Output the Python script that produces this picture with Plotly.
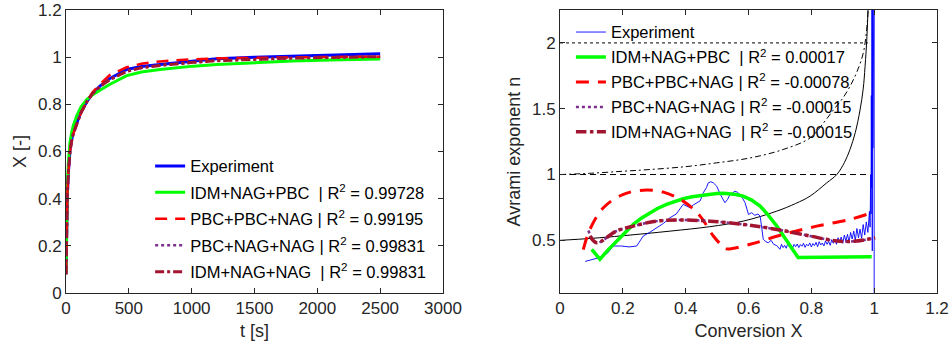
import plotly.graph_objects as go

# ---------------- Left panel data: X vs t ----------------
t_exp = [0, 5, 11, 20, 32, 45, 58, 85, 120, 165, 210, 270, 350, 483, 600, 748, 900, 1013, 1199, 1500, 1800, 2100, 2500]
X_exp = [0.08, 0.25, 0.42, 0.52, 0.606, 0.65, 0.68, 0.72, 0.77, 0.81, 0.845, 0.877, 0.91, 0.948, 0.96, 0.969, 0.977, 0.983, 0.993, 1.0, 1.005, 1.01, 1.015]
X_idm_nag_pbc = [0.08, 0.28, 0.46, 0.56, 0.64, 0.68, 0.71, 0.75, 0.79, 0.82, 0.84, 0.86, 0.885, 0.922, 0.937, 0.948, 0.957, 0.962, 0.969, 0.978, 0.984, 0.988, 0.992]
X_pbc_pbc_nag = [0.08, 0.25, 0.42, 0.52, 0.6, 0.645, 0.675, 0.715, 0.765, 0.81, 0.85, 0.885, 0.925, 0.957, 0.972, 0.982, 0.988, 0.991, 0.995, 0.998, 1.0, 1.001, 1.002]
X_pbc_nag_nag = [0.08, 0.25, 0.42, 0.52, 0.6, 0.645, 0.675, 0.715, 0.765, 0.81, 0.845, 0.875, 0.905, 0.94, 0.955, 0.965, 0.973, 0.978, 0.985, 0.992, 0.996, 0.999, 1.002]
X_idm_nag_nag = [0.08, 0.25, 0.42, 0.52, 0.6, 0.645, 0.675, 0.715, 0.765, 0.81, 0.845, 0.875, 0.905, 0.94, 0.955, 0.965, 0.973, 0.978, 0.985, 0.992, 0.996, 0.999, 1.002]

# ---------------- Right panel data: Avrami exponent vs X ----------------
n_exp_X = [0.08, 0.127, 0.15, 0.17, 0.195, 0.22, 0.244, 0.265, 0.285, 0.308, 0.33, 0.35, 0.37, 0.392, 0.404, 0.414,
           0.425, 0.435, 0.446, 0.456, 0.466, 0.472, 0.48, 0.488, 0.499, 0.51, 0.525, 0.533, 0.541, 0.549, 0.557,
           0.565, 0.573, 0.581, 0.589, 0.6, 0.61, 0.62, 0.63, 0.637, 0.647, 0.655, 0.663, 0.672, 0.68, 0.69,
           0.700, 0.705, 0.710, 0.715, 0.720, 0.725, 0.730, 0.735, 0.740, 0.745, 0.750, 0.755, 0.760, 0.765,
           0.770, 0.775, 0.780, 0.785, 0.790, 0.795, 0.800, 0.805, 0.810, 0.815, 0.820, 0.825, 0.830, 0.835,
           0.840, 0.845, 0.850, 0.855, 0.860, 0.865, 0.870, 0.875, 0.880, 0.885, 0.890, 0.895, 0.900, 0.905,
           0.910, 0.915, 0.920, 0.925, 0.930, 0.935, 0.940, 0.945, 0.950, 0.955, 0.960, 0.965, 0.970, 0.975,
           0.980, 0.985, 0.987, 0.989, 0.990, 0.991, 0.992, 0.993, 0.994, 0.995, 0.996, 0.997, 0.998, 0.999,
           1.0, 1.0]
n_exp = [0.34, 0.37, 0.40, 0.457, 0.457, 0.45, 0.457, 0.533, 0.56, 0.596, 0.63, 0.672, 0.70, 0.773, 0.76, 0.748,
         0.77, 0.786, 0.80, 0.861, 0.90, 0.937, 0.945, 0.937, 0.911, 0.85, 0.786, 0.81, 0.848, 0.86, 0.873,
         0.865, 0.848, 0.82, 0.786, 0.697, 0.71, 0.69, 0.70, 0.684, 0.508, 0.49, 0.482, 0.50, 0.47, 0.46,
         0.432, 0.47, 0.445, 0.462, 0.44, 0.475, 0.45, 0.465, 0.438, 0.47, 0.452, 0.472, 0.445, 0.468,
         0.455, 0.478, 0.447, 0.47, 0.458, 0.48, 0.45, 0.476, 0.46, 0.485, 0.452, 0.49, 0.465, 0.48,
         0.458, 0.495, 0.47, 0.492, 0.462, 0.505, 0.478, 0.51, 0.47, 0.52, 0.488, 0.525, 0.478, 0.54,
         0.495, 0.545, 0.49, 0.56, 0.51, 0.57, 0.5, 0.59, 0.52, 0.585, 0.515, 0.62, 0.54, 0.64,
         0.56, 0.72, 0.6, 1.0, 0.7, 1.6, 0.9, 2.3, 0.42, 2.3, 1.2, 2.4, 1.4, 2.4,
         2.4, 0.1]

g_X = [0.101, 0.127, 0.15, 0.18, 0.21, 0.233, 0.26, 0.286, 0.31, 0.339, 0.365, 0.392, 0.42, 0.446, 0.47, 0.499,
       0.52, 0.541, 0.56, 0.583, 0.61, 0.637, 0.66, 0.69, 0.71, 0.732, 0.758, 0.992]
g_n = [0.432, 0.356, 0.42, 0.495, 0.565, 0.621, 0.67, 0.71, 0.742, 0.773, 0.797, 0.816, 0.831, 0.841, 0.849, 0.856,
       0.857, 0.854, 0.848, 0.836, 0.806, 0.76, 0.70, 0.608, 0.535, 0.457, 0.369, 0.376]

r_X = [0.074, 0.095, 0.138, 0.2, 0.265, 0.329, 0.392, 0.446, 0.488, 0.52, 0.53, 0.605, 0.71, 0.817, 0.923, 0.976]
r_n = [0.43, 0.583, 0.748, 0.848, 0.881, 0.866, 0.798, 0.684, 0.533, 0.45, 0.435, 0.47, 0.545, 0.608, 0.659, 0.697]

b_X = [0.095, 0.117, 0.18, 0.233, 0.308, 0.392, 0.477, 0.583, 0.69, 0.796, 0.881, 0.944, 1.003]
b_n = [0.533, 0.482, 0.571, 0.608, 0.646, 0.654, 0.646, 0.621, 0.583, 0.533, 0.495, 0.495, 0.52]
p_X = [0.09, 0.117, 0.18, 0.233, 0.308, 0.392, 0.477, 0.583, 0.69, 0.796, 0.881, 0.944, 1.003]
p_n = [0.575, 0.482, 0.571, 0.608, 0.646, 0.654, 0.646, 0.621, 0.583, 0.533, 0.495, 0.495, 0.52]

ref_solid_X = [0, 0.1, 0.2, 0.35, 0.477, 0.583, 0.69, 0.75, 0.796, 0.849, 0.881, 0.905, 0.923, 0.94, 0.955, 0.965, 0.971, 0.977, 0.981]
ref_solid_n = [0.5, 0.515, 0.535, 0.57, 0.604, 0.646, 0.722, 0.78, 0.836, 0.937, 1.0, 1.09, 1.19, 1.32, 1.49, 1.65, 1.82, 2.05, 2.3]
ref_dd_X = [0, 0.1, 0.2, 0.286, 0.4, 0.499, 0.605, 0.71, 0.796, 0.838, 0.87, 0.9, 0.923, 0.945, 0.965, 0.976, 0.982]
ref_dd_n = [1.0, 1.01, 1.025, 1.038, 1.06, 1.089, 1.126, 1.19, 1.278, 1.39, 1.49, 1.58, 1.67, 1.78, 1.92, 2.1, 2.3]
ref_h_X = [0, 0.98]
ref_one = [1, 1]
ref_two = [2, 2]

names_left = ["Experiment",
              "IDM+NAG+PBC\u00a0\u00a0| R<sup>2</sup> = 0.99728",
              "PBC+PBC+NAG | R<sup>2</sup> = 0.99195",
              "PBC+NAG+NAG | R<sup>2</sup> = 0.99831",
              "IDM+NAG+NAG\u00a0\u00a0| R<sup>2</sup> = 0.99831"]
names_right = ["Experiment",
               "IDM+NAG+PBC\u00a0\u00a0| R<sup>2</sup> = 0.00017",
               "PBC+PBC+NAG | R<sup>2</sup> = -0.00078",
               "PBC+NAG+NAG | R<sup>2</sup> = -0.00015",
               "IDM+NAG+NAG\u00a0\u00a0| R<sup>2</sup> = -0.00015"]

BLUE = "#0000ff"
GREEN = "#00ff00"
RED = "#ff0000"
PURPLE = "#7e2f8e"
BROWN = "#a2142f"

fig = go.Figure()

# Left panel
fig.add_trace(go.Scatter(x=t_exp, y=X_exp, mode="lines", name=names_left[0], line=dict(color=BLUE, width=3),
                         xaxis="x", yaxis="y", legend="legend", legendgroup="l0"))
fig.add_trace(go.Scatter(x=t_exp, y=X_idm_nag_pbc, mode="lines", name=names_left[1], line=dict(color=GREEN, width=3),
                         xaxis="x", yaxis="y", legend="legend", legendgroup="l1"))
fig.add_trace(go.Scatter(x=t_exp, y=X_pbc_pbc_nag, mode="lines", name=names_left[2], line=dict(color=RED, width=2.5, dash="12px,8px"),
                         xaxis="x", yaxis="y", legend="legend", legendgroup="l2"))
fig.add_trace(go.Scatter(x=t_exp, y=X_pbc_nag_nag, mode="lines", name=names_left[3], line=dict(color=PURPLE, width=2.5, dash="dot"),
                         xaxis="x", yaxis="y", legend="legend", legendgroup="l3"))
fig.add_trace(go.Scatter(x=t_exp, y=X_idm_nag_nag, mode="lines", name=names_left[4], line=dict(color=BROWN, width=3, dash="dashdot"),
                         xaxis="x", yaxis="y", legend="legend", legendgroup="l4"))

# Right panel reference lines
for xs, ys, ds in [(ref_h_X, ref_two, "dot"), (ref_h_X, ref_one, "6px,4px"),
                   (ref_solid_X, ref_solid_n, "solid"), (ref_dd_X, ref_dd_n, "6px,3px,2px,3px")]:
    fig.add_trace(go.Scatter(x=xs, y=ys, mode="lines", line=dict(color="black", width=1, dash=ds, shape="spline"),
                             showlegend=False, xaxis="x2", yaxis="y2", hoverinfo="skip"))

fig.add_trace(go.Scatter(x=n_exp_X, y=n_exp, mode="lines", name=names_right[0], line=dict(color=BLUE, width=0.9),
                         xaxis="x2", yaxis="y2", legend="legend2", legendgroup="r0"))
fig.add_trace(go.Scatter(x=g_X, y=g_n, mode="lines", name=names_right[1], line=dict(color=GREEN, width=3.5),
                         xaxis="x2", yaxis="y2", legend="legend2", legendgroup="r1"))
fig.add_trace(go.Scatter(x=r_X, y=r_n, mode="lines", name=names_right[2], line=dict(color=RED, width=3, dash="13px,9px", shape="spline"),
                         xaxis="x2", yaxis="y2", legend="legend2", legendgroup="r2"))
fig.add_trace(go.Scatter(x=p_X, y=p_n, mode="lines", name=names_right[3], line=dict(color=PURPLE, width=2.5, dash="dot", shape="spline"),
                         xaxis="x2", yaxis="y2", legend="legend2", legendgroup="r3"))
fig.add_trace(go.Scatter(x=b_X, y=b_n, mode="lines", name=names_right[4], line=dict(color=BROWN, width=3.5, dash="dashdot", shape="spline"),
                         xaxis="x2", yaxis="y2", legend="legend2", legendgroup="r4"))

FONT = "Liberation Sans, Arial, sans-serif"
AX = dict(showline=True, linecolor="#262626", linewidth=1, mirror="ticks", ticks="inside", ticklen=5,
          tickcolor="#262626", showgrid=False, zeroline=False, automargin=False,
          tickfont=dict(family=FONT, size=17, color="#262626"))

fig.update_layout(
    width=951, height=351,
    margin=dict(l=66, r=14, t=10, b=58),
    paper_bgcolor="white", plot_bgcolor="white",
    font=dict(family=FONT, color="#262626"),
    xaxis=dict(AX, domain=[0, 0.4328], range=[0, 3000], tickvals=[0, 500, 1000, 1500, 2000, 2500, 3000],
               title=dict(text="t [s]", font=dict(size=18), standoff=6), anchor="y"),
    yaxis=dict(AX, domain=[0, 1], range=[0, 1.2], tickvals=[0, 0.2, 0.4, 0.6, 0.8, 1, 1.2],
               title=dict(text="X [-]", font=dict(size=18), standoff=6), anchor="x"),
    xaxis2=dict(AX, domain=[0.5672, 1.0], range=[0, 1.2], tickvals=[0, 0.2, 0.4, 0.6, 0.8, 1, 1.2],
                title=dict(text="Conversion X", font=dict(size=18), standoff=6), anchor="y2"),
    yaxis2=dict(AX, domain=[0, 1], range=[0.1, 2.25], tickvals=[0.5, 1, 1.5, 2],
                title=dict(text="Avrami exponent n", font=dict(size=18), standoff=6), anchor="x2"),
    legend=dict(x=0.0966, y=0.51, xanchor="left", yanchor="top", bgcolor="rgba(0,0,0,0)",
                font=dict(family=FONT, size=16.5, color="black"), tracegroupgap=2, traceorder="grouped"),
    legend2=dict(x=0.5797, y=0.983, xanchor="left", yanchor="top", bgcolor="rgba(0,0,0,0)",
                 font=dict(family=FONT, size=16.5, color="black"), tracegroupgap=0.5, traceorder="grouped"),
)

# remove the default 8px page margin so the 951x351 figure fills the window exactly
fig.write_html("out.html", config={"displayModeBar": False},
               post_script="document.body.style.margin='0px';")
